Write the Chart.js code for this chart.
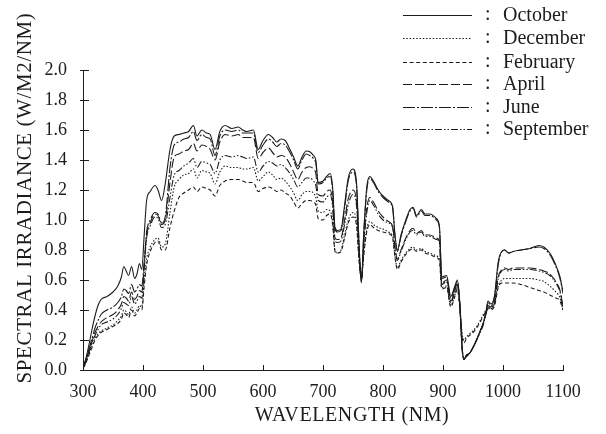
<!DOCTYPE html>
<html><head><meta charset="utf-8">
<script src="https://cdn.jsdelivr.net/npm/chart.js@4"></script>
<style>html,body{margin:0;padding:0;background:#fff}#wrap{width:606px;height:434px}</style>
</head><body><div id="wrap"><canvas id="c" width="606" height="434"></canvas></div>
<script>
const wavelengths=[300,305,310,315,320,325,330,340,350,358,
364,368,372,376,381,386,390,394,398,402,
406,412,420,425,431,437,445,452,460,468,
476,484,490,498,506,512,520,528,537,548,
559,566,573,584,592,600,609,616,623,630,
637,645,651,658,665,672,678,684,688,692,
700,706,712,716,720,724,730,736,742,750,
756,760,764,768,773,778,784,792,800,809,
816,820,824,830,838,845,850,856,864,870,
878,889,894,898,906,913,919,924,928,932,
935,939,944,950,956,962,967,972,975,980,
986,992,998,1003,1009,1017,1030,1045,1060,1068,
1078,1088,1095,1100];

const october=[0.01,0.08,0.17,0.27,0.36,0.43,0.47,0.49,0.52,0.56,
0.62,0.69,0.66,0.63,0.69,0.61,0.64,0.71,0.67,0.90,
1.13,1.19,1.23,1.20,1.13,1.24,1.47,1.56,1.57,1.58,
1.59,1.63,1.56,1.60,1.58,1.57,1.47,1.59,1.63,1.61,
1.62,1.60,1.59,1.60,1.47,1.53,1.57,1.55,1.52,1.54,
1.53,1.47,1.42,1.36,1.42,1.46,1.455,1.43,1.40,1.25,
1.26,1.29,1.31,1.22,0.95,0.93,0.94,1.10,1.28,1.34,
1.24,0.85,0.58,0.92,1.22,1.29,1.26,1.20,1.16,1.13,
1.09,0.90,0.80,0.90,1.00,1.07,1.085,1.03,1.07,1.04,
1.04,1.01,0.96,0.62,0.63,0.49,0.55,0.60,0.45,0.15,
0.07,0.10,0.11,0.15,0.20,0.26,0.31,0.40,0.46,0.44,
0.50,0.72,0.79,0.80,0.78,0.79,0.80,0.81,0.83,0.82,
0.78,0.70,0.62,0.52];

const june=[0.01,0.07,0.14,0.21,0.28,0.33,0.37,0.40,0.42,0.45,
0.49,0.54,0.53,0.51,0.57,0.52,0.54,0.57,0.56,0.72,
0.92,1.00,1.05,1.04,0.98,1.02,1.35,1.50,1.52,1.54,
1.55,1.59,1.53,1.57,1.55,1.54,1.43,1.56,1.60,1.59,
1.60,1.58,1.58,1.58,1.45,1.50,1.54,1.52,1.49,1.51,
1.50,1.45,1.40,1.34,1.40,1.44,1.43,1.41,1.38,1.24,
1.25,1.28,1.29,1.20,0.94,0.92,0.93,1.08,1.26,1.32,
1.22,0.84,0.59,0.91,1.20,1.28,1.25,1.19,1.15,1.12,
1.08,0.89,0.79,0.89,0.99,1.06,1.08,1.02,1.06,1.03,
1.03,1.00,0.95,0.61,0.62,0.48,0.54,0.59,0.44,0.14,
0.07,0.10,0.11,0.15,0.20,0.26,0.31,0.39,0.45,0.43,
0.49,0.70,0.79,0.80,0.78,0.79,0.80,0.81,0.82,0.81,
0.77,0.69,0.61,0.51];

const april=[0.01,0.06,0.13,0.19,0.25,0.29,0.32,0.35,0.37,0.40,
0.44,0.49,0.48,0.46,0.52,0.47,0.49,0.53,0.52,0.70,
0.90,0.98,1.04,1.03,0.97,1.00,1.25,1.42,1.44,1.46,
1.47,1.51,1.46,1.50,1.49,1.47,1.40,1.52,1.57,1.56,
1.57,1.55,1.55,1.55,1.41,1.45,1.48,1.45,1.42,1.43,
1.42,1.37,1.32,1.27,1.32,1.35,1.355,1.34,1.31,1.17,
1.16,1.19,1.20,1.12,0.88,0.87,0.88,1.00,1.14,1.20,
1.12,0.80,0.60,0.86,1.08,1.15,1.12,1.06,1.02,0.99,
0.96,0.82,0.74,0.80,0.88,0.93,0.945,0.91,0.93,0.90,
0.90,0.88,0.86,0.58,0.60,0.46,0.52,0.58,0.43,0.14,
0.07,0.09,0.11,0.15,0.20,0.26,0.31,0.38,0.43,0.42,
0.46,0.62,0.67,0.68,0.67,0.68,0.68,0.68,0.67,0.66,
0.64,0.59,0.53,0.42];

const september=[0.01,0.06,0.12,0.18,0.23,0.27,0.30,0.32,0.34,0.37,
0.41,0.45,0.44,0.43,0.49,0.44,0.46,0.49,0.48,0.68,
0.88,0.96,1.02,1.01,0.95,0.97,1.15,1.30,1.33,1.36,
1.38,1.41,1.35,1.39,1.38,1.37,1.31,1.40,1.43,1.42,
1.43,1.42,1.41,1.42,1.32,1.36,1.39,1.38,1.36,1.37,
1.35,1.31,1.27,1.22,1.25,1.28,1.28,1.26,1.23,1.13,
1.12,1.15,1.17,1.09,0.86,0.85,0.86,0.97,1.10,1.17,
1.09,0.78,0.60,0.84,1.05,1.13,1.10,1.04,1.00,0.98,
0.95,0.81,0.73,0.79,0.87,0.92,0.93,0.90,0.92,0.89,
0.89,0.87,0.85,0.57,0.59,0.45,0.51,0.57,0.43,0.13,
0.07,0.09,0.11,0.15,0.20,0.25,0.30,0.38,0.42,0.41,
0.45,0.61,0.66,0.67,0.66,0.67,0.67,0.67,0.66,0.65,
0.63,0.58,0.52,0.41];

const december=[0.01,0.05,0.11,0.16,0.21,0.24,0.26,0.28,0.30,0.33,
0.36,0.40,0.39,0.37,0.42,0.38,0.40,0.43,0.42,0.60,
0.74,0.82,0.87,0.88,0.82,0.84,1.05,1.22,1.27,1.30,
1.31,1.34,1.28,1.33,1.32,1.31,1.24,1.32,1.36,1.35,
1.35,1.34,1.34,1.35,1.26,1.29,1.32,1.30,1.27,1.28,
1.26,1.22,1.18,1.13,1.17,1.19,1.19,1.18,1.15,1.06,
1.05,1.07,1.06,0.99,0.80,0.78,0.80,0.90,1.00,1.05,
0.98,0.74,0.61,0.78,0.94,0.99,0.97,0.95,0.94,0.92,
0.89,0.76,0.68,0.73,0.78,0.81,0.82,0.80,0.81,0.79,
0.78,0.76,0.74,0.55,0.56,0.43,0.49,0.55,0.42,0.24,
0.20,0.22,0.24,0.26,0.29,0.33,0.37,0.40,0.42,0.41,
0.44,0.56,0.60,0.61,0.61,0.61,0.61,0.61,0.60,0.59,
0.56,0.52,0.48,0.40];

const february=[0.01,0.05,0.10,0.15,0.20,0.23,0.25,0.27,0.29,0.31,
0.34,0.38,0.37,0.35,0.40,0.36,0.38,0.41,0.40,0.56,
0.70,0.79,0.85,0.86,0.80,0.80,0.95,1.06,1.15,1.18,
1.20,1.22,1.19,1.22,1.21,1.20,1.16,1.23,1.26,1.27,
1.27,1.26,1.25,1.25,1.19,1.21,1.22,1.21,1.19,1.20,
1.18,1.16,1.12,1.08,1.11,1.13,1.13,1.12,1.10,1.01,
1.00,1.03,1.04,0.97,0.79,0.78,0.79,0.88,0.98,1.02,
0.96,0.73,0.62,0.77,0.92,0.97,0.95,0.93,0.92,0.91,
0.88,0.75,0.67,0.72,0.77,0.80,0.81,0.79,0.80,0.78,
0.77,0.75,0.73,0.54,0.55,0.42,0.48,0.54,0.41,0.22,
0.18,0.21,0.23,0.25,0.28,0.32,0.36,0.39,0.41,0.40,
0.43,0.55,0.58,0.58,0.58,0.58,0.57,0.55,0.53,0.52,
0.50,0.48,0.46,0.40];

const months=['October','December','February','April','June','September'];
const monthSeries=[october,december,february,april,june,september];
const xAxisTitle='WAVELENGTH (NM)';
const yAxisTitle='SPECTRAL IRRADIANCE (W/M2/NM)';
const xMin=300, xMax=1100, xStep=100;
const yMin=0, yMax=2.0, yStep=0.2;

const dashPatterns=[[],[1.5,1.8],[4,2.6],[9,3],[12,2,2,2],[7,2,1.5,2,1.5,2]];
const INK='#1c1c1c';
const SERIF='"Liberation Serif","DejaVu Serif",serif';

const datasets=months.map((m,i)=>({
  label:m,
  data:wavelengths.map((w,k)=>({x:w,y:monthSeries[i][k]})),
  borderColor:INK,
  borderWidth:1.1,
  borderDash:dashPatterns[i],
  pointRadius:0,
  fill:false,
  tension:0.25,
  cubicInterpolationMode:'monotone'
}));

const deco={
  id:'deco',
  beforeDraw(chart){
    const c=chart.ctx;c.save();c.fillStyle='#fff';c.fillRect(0,0,chart.width,chart.height);c.restore();
  },
  afterDraw(chart){
    const c=chart.ctx, xs=chart.scales.x, ys=chart.scales.y, a=chart.chartArea;
    c.save();
    c.strokeStyle=INK;c.lineWidth=1;c.setLineDash([]);
    ys.ticks.forEach(t=>{
      const y=Math.round(ys.getPixelForValue(t.value))+0.5;
      c.beginPath();c.moveTo(a.left-3,y);c.lineTo(a.left+6,y);c.stroke();
    });
    xs.ticks.forEach(t=>{
      const x=Math.round(xs.getPixelForValue(t.value))+0.5;
      c.beginPath();c.moveTo(x,a.bottom);c.lineTo(x,a.bottom-5);c.stroke();
    });
    c.fillStyle=INK;c.textAlign='center';c.textBaseline='middle';
    c.font='20px '+SERIF;
    c.letterSpacing='0.6px';
    c.fillText(xAxisTitle,352,416);
    c.save();c.translate(25,198);c.rotate(-Math.PI/2);
    c.font='21px '+SERIF;
    c.fillText(yAxisTitle,0,0);
    c.restore();
    c.letterSpacing='0px';
    // legend
    const rows=[15,38,62,84,107,129];
    c.font='20px '+SERIF;c.textAlign='left';
    chart.data.datasets.forEach((ds,i)=>{
      const y=rows[i]+0.5;
      c.lineWidth=1.1;c.setLineDash(ds.borderDash||[]);
      c.beginPath();c.moveTo(403,y);c.lineTo(472,y);c.stroke();
      c.setLineDash([]);
      c.fillText(':',485,rows[i]);
      c.fillText(ds.label,503,rows[i]+1);
    });
    c.restore();
  }
};

new Chart(document.getElementById('c'),{
  type:'line',
  data:{datasets},
  plugins:[deco],
  options:{
    responsive:false,
    animation:false,
    devicePixelRatio:1,
    layout:{padding:{left:0,top:70,right:43,bottom:0}},
    plugins:{legend:{display:false},tooltip:{enabled:false}},
    scales:{
      x:{
        type:'linear',min:xMin,max:xMax,
        grid:{display:false},
        border:{display:true,color:INK,width:1},
        ticks:{stepSize:xStep,color:INK,padding:3,maxRotation:0,font:{family:SERIF,size:18},callback:v=>String(v)},
        afterFit(s){s.height=64;}
      },
      y:{
        type:'linear',min:yMin,max:yMax,
        grid:{display:false},
        border:{display:true,color:INK,width:1},
        ticks:{stepSize:yStep,color:INK,padding:8,font:{family:SERIF,size:18},callback:v=>Number(v).toFixed(1)},
        afterFit(s){s.width=83;}
      }
    }
  }
});
</script></body></html>
